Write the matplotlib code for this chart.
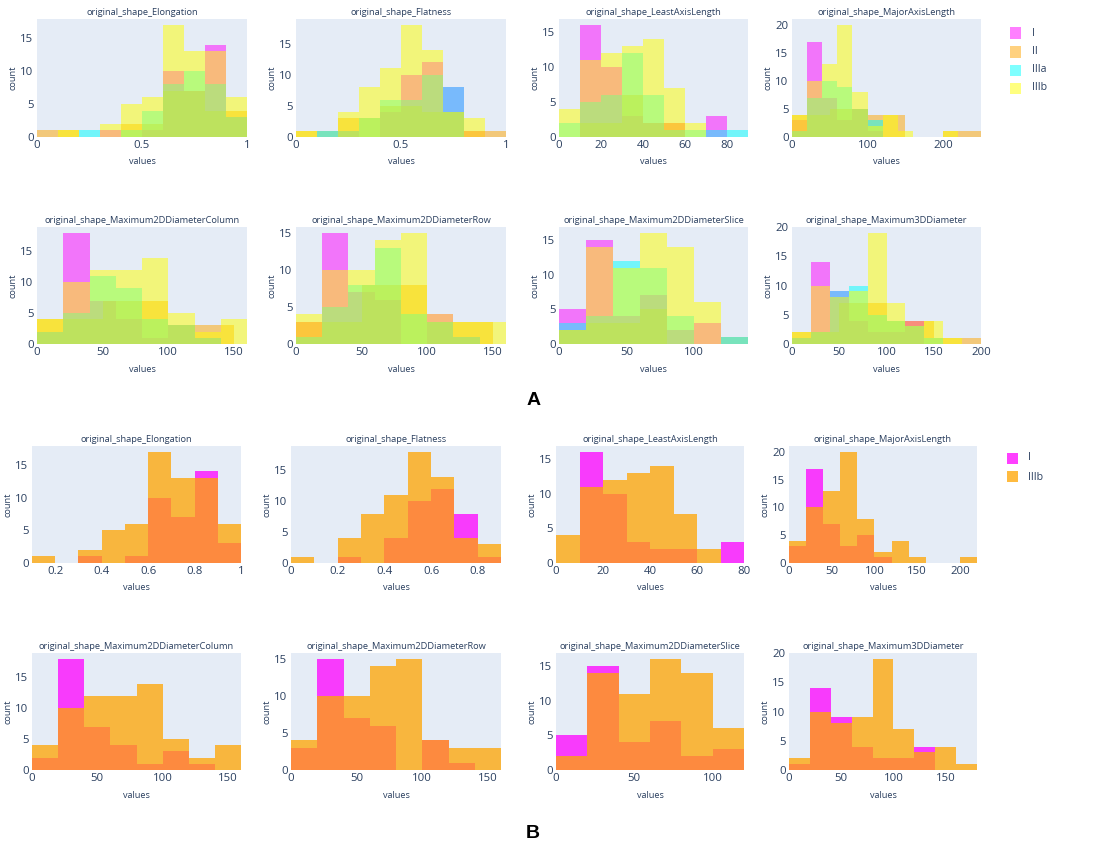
import matplotlib
matplotlib.use('Agg')
import matplotlib.pyplot as plt
from matplotlib.patches import Rectangle

plt.rcParams['font.family'] = ['Open Sans', 'DejaVu Sans']

W, H = 1119, 861
BG = '#E5ECF6'
TXT = '#2a3f5f'

# ---------------- data (bin start, bin width) and counts ----------------
titles = ['original_shape_Elongation', 'original_shape_Flatness',
          'original_shape_LeastAxisLength', 'original_shape_MajorAxisLength',
          'original_shape_Maximum2DDiameterColumn', 'original_shape_Maximum2DDiameterRow',
          'original_shape_Maximum2DDiameterSlice', 'original_shape_Maximum3DDiameter']
groups_A = ['I', 'II', 'IIIa', 'IIIb']
groups_B = ['I', 'IIIb']

# Elongation
elong_I = [0, 0, 1, 0, 1, 10, 7, 14, 3];          elong_I_bins = (0.1, 0.1)
elong_IIIb = [1, 0, 2, 5, 6, 17, 13, 13, 6];      elong_IIIb_bins = (0.1, 0.1)
elong_II = [1, 0, 2, 7, 4];                       elong_II_bins = (0.0, 0.2)
elong_IIIa = [1, 0, 1, 4, 8, 10, 8, 3];           elong_IIIa_bins = (0.2, 0.1)
# Flatness
flat_I = [0, 0, 1, 0, 4, 10, 12, 8, 1];           flat_I_bins = (0.0, 0.1)
flat_IIIb = [1, 0, 4, 8, 11, 18, 14, 4, 3];       flat_IIIb_bins = (0.0, 0.1)
flat_II = [1, 3, 5, 4, 1];                        flat_II_bins = (0.0, 0.2)
flat_IIIa = [1, 1, 3, 6, 6, 10, 8];               flat_IIIa_bins = (0.1, 0.1)
# LeastAxisLength
least_I = [0, 16, 10, 3, 2, 2, 0, 3];             least_I_bins = (0, 10)
least_IIIb = [4, 11, 12, 13, 14, 7, 2];           least_IIIb_bins = (0, 10)
least_II = [0, 2, 2, 6, 2, 2];                    least_II_bins = (0, 10)
least_IIIa = [2, 5, 6, 12, 6, 1, 1, 1, 1];        least_IIIa_bins = (0, 10)
# MajorAxisLength
major_I = [3, 17, 7, 3, 5, 1];                    major_I_bins = (0, 20)
major_IIIb = [4, 10, 13, 20, 8, 2, 4, 1, 0, 0, 1]; major_IIIb_bins = (0, 20)
major_II = [4, 5, 4, 0, 1];                       major_II_bins = (0, 50)
major_IIIa = [1, 7, 10, 9, 5, 3];                 major_IIIa_bins = (0, 20)
# Maximum2DDiameterColumn
col_I = [2, 18, 7, 4, 1, 3, 1];                   col_I_bins = (0, 20)
col_IIIb = [4, 10, 12, 12, 14, 5, 2, 4];          col_IIIb_bins = (0, 20)
col_II = [4, 7, 3];                               col_II_bins = (0, 50)
col_IIIa = [2, 5, 11, 9, 4, 3, 1];                col_IIIa_bins = (0, 20)
# Maximum2DDiameterRow
row_I = [3, 15, 7, 6, 0, 4, 1];                   row_I_bins = (0, 20)
row_IIIb = [4, 10, 10, 14, 15, 4, 3, 3];          row_IIIb_bins = (0, 20)
row_II = [3, 8, 3];                               row_II_bins = (0, 50)
row_IIIa = [1, 5, 8, 13, 4, 3, 1];                row_IIIa_bins = (0, 20)
# Maximum2DDiameterSlice
slice_I = [5, 15, 4, 7, 2, 3];                    slice_I_bins = (0, 20)
slice_IIIb = [2, 14, 11, 16, 14, 6];              slice_IIIb_bins = (0, 20)
slice_II = [2, 3, 3, 5, 0, 0, 1];                 slice_II_bins = (0, 20)
slice_IIIa = [3, 4, 12, 11, 4, 0, 1];             slice_IIIa_bins = (0, 20)
# Maximum3DDiameter
d3_I = [1, 14, 9, 4, 2, 2, 4];                    d3_I_bins = (0, 20)
d3_IIIb = [2, 10, 8, 9, 19, 7, 3, 4, 1];          d3_IIIb_bins = (0, 20)
d3_II = [2, 7, 4, 1];                             d3_II_bins = (0, 50)
d3_IIIa = [1, 2, 9, 10, 5, 4, 3, 1];              d3_IIIa_bins = (0, 20)

xticks_A = [[0, 0.5, 1], [0, 0.5, 1], [0, 20, 40, 60, 80], [0, 100, 200],
            [0, 50, 100, 150], [0, 50, 100, 150], [0, 50, 100], [0, 50, 100, 150, 200]]
xticks_B = [[0.2, 0.4, 0.6, 0.8, 1], [0, 0.2, 0.4, 0.6, 0.8], [0, 20, 40, 60, 80],
            [0, 50, 100, 150, 200], [0, 50, 100, 150], [0, 50, 100, 150], [0, 50, 100],
            [0, 50, 100, 150]]

colors_A = {'I': '#FF00FF', 'II': '#FFA500', 'IIIa': '#00FFFF', 'IIIb': '#FFFF00'}
colors_B = {'I': '#FF00FF', 'IIIb': '#FFA500'}
alpha_A = 0.5
alpha_B = 0.75

# build per-feature lookup tables from the named arrays
feat_I = [(elong_I, elong_I_bins), (flat_I, flat_I_bins), (least_I, least_I_bins), (major_I, major_I_bins),
          (col_I, col_I_bins), (row_I, row_I_bins), (slice_I, slice_I_bins), (d3_I, d3_I_bins)]
feat_II = [(elong_II, elong_II_bins), (flat_II, flat_II_bins), (least_II, least_II_bins), (major_II, major_II_bins),
           (col_II, col_II_bins), (row_II, row_II_bins), (slice_II, slice_II_bins), (d3_II, d3_II_bins)]
feat_IIIa = [(elong_IIIa, elong_IIIa_bins), (flat_IIIa, flat_IIIa_bins), (least_IIIa, least_IIIa_bins),
             (major_IIIa, major_IIIa_bins), (col_IIIa, col_IIIa_bins), (row_IIIa, row_IIIa_bins),
             (slice_IIIa, slice_IIIa_bins), (d3_IIIa, d3_IIIa_bins)]
feat_IIIb = [(elong_IIIb, elong_IIIb_bins), (flat_IIIb, flat_IIIb_bins), (least_IIIb, least_IIIb_bins),
             (major_IIIb, major_IIIb_bins), (col_IIIb, col_IIIb_bins), (row_IIIb, row_IIIb_bins),
             (slice_IIIb, slice_IIIb_bins), (d3_IIIb, d3_IIIb_bins)]
series = {'I': feat_I, 'II': feat_II, 'IIIa': feat_IIIa, 'IIIb': feat_IIIb}

# ---------------- layout (pixel boxes) ----------------
A_cols = [(37, 247), (296, 506), (559, 748), (792, 981)]
A_rows = [(19, 137), (227, 344)]
B_cols = [(32, 241), (291, 501), (556, 744), (789, 977)]
B_rows = [(446, 563), (653, 770)]

fig = plt.figure(figsize=(W / 100, H / 100), dpi=100)
fig.patch.set_facecolor('white')


def fmt(v):
    return ('%g' % v)


def add_ax(l, r, t, b):
    return fig.add_axes([l / W, 1 - b / H, (r - l) / W, (b - t) / H])


def draw_panel(cols, rows, groups, colors, alpha, xticks_list):
    for k in range(8):
        l, r = cols[k % 4]
        t, b = rows[k // 4]
        ax = add_ax(l, r, t, b)
        ax.set_facecolor(BG)
        for s in ax.spines.values():
            s.set_visible(False)
        xmin, xmax, ymax = 1e9, -1e9, 0
        for g in groups:
            counts, (start, width) = series[g][k]
            lefts = [start + i * width for i in range(len(counts))]
            nz = [i for i, c in enumerate(counts) if c > 0]
            xmin = min(xmin, start + nz[0] * width)
            xmax = max(xmax, start + (nz[-1] + 1) * width)
            ymax = max(ymax, max(counts))
            ax.bar(lefts, counts, width=width, align='edge', color=colors[g],
                   alpha=alpha, linewidth=0, antialiased=False, zorder=2)
        top = ymax / 0.95
        ax.set_xlim(xmin, xmax)
        ax.set_ylim(0, top)
        xt = xticks_list[k]
        ax.set_xticks(xt)
        ax.set_xticklabels([fmt(v) for v in xt])
        yt = list(range(0, int(top + 1e-6) + 1, 5))
        ax.set_yticks(yt)
        ax.set_yticklabels([fmt(v) for v in yt])
        ax.tick_params(length=0, pad=2.5, labelsize=8.2, colors=TXT)
        hpx, wpx = b - t, r - l
        ax.text(0.5, 1 + 6.5 / hpx, titles[k], transform=ax.transAxes, ha='center',
                va='center', fontsize=6.7, color=TXT)
        ax.text(0.5, -25 / hpx, 'values', transform=ax.transAxes, ha='center',
                va='center', fontsize=6.6, color=TXT)
        ax.text(-24 / wpx, 0.5, 'count', transform=ax.transAxes, ha='center',
                va='center', rotation=90, fontsize=6.6, color=TXT)


draw_panel(A_cols, A_rows, groups_A, colors_A, alpha_A, xticks_A)
draw_panel(B_cols, B_rows, groups_B, colors_B, alpha_B, xticks_B)


def legend(entries, ys, colors, alpha, sx, tx):
    for g, y in zip(entries, ys):
        fig.add_artist(Rectangle((sx / W, 1 - (y + 5.5) / H), 11 / W, 11 / H,
                                 transform=fig.transFigure, facecolor=colors[g],
                                 alpha=alpha, linewidth=0))
        fig.text(tx / W, 1 - y / H, g, ha='left', va='center', fontsize=7.6, color=TXT)


legend(groups_A, [33, 52, 70, 88], colors_A, alpha_A, 1010, 1032)
legend(groups_B, [458, 477], colors_B, alpha_B, 1007, 1028)

fig.text(534 / W, 1 - 401 / H, 'A', ha='center', va='center', fontsize=14,
         fontweight='bold', family=['Liberation Sans', 'DejaVu Sans'], color='black')
fig.text(533 / W, 1 - 834 / H, 'B', ha='center', va='center', fontsize=14,
         fontweight='bold', family=['Liberation Sans', 'DejaVu Sans'], color='black')

fig.savefig('out.png', dpi=100, facecolor='white')
